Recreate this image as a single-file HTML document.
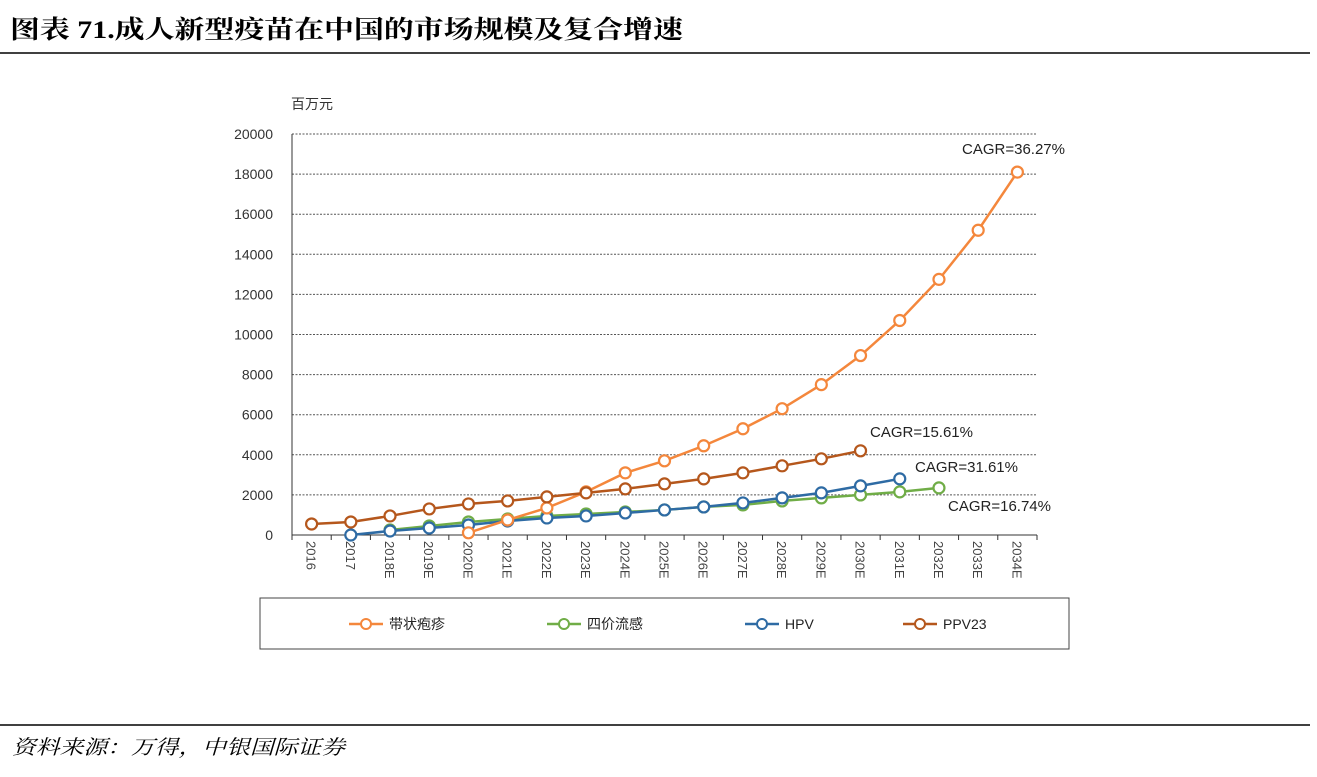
<!DOCTYPE html>
<html><head><meta charset="utf-8"><style>
body{margin:0;background:#fff;width:1317px;height:772px;overflow:hidden;font-family:"Liberation Sans","Noto Sans CJK SC",sans-serif}
</style></head><body>
<svg width="1317" height="772" xmlns="http://www.w3.org/2000/svg" font-family="Liberation Sans, Noto Sans CJK SC, sans-serif">
<text x="10" y="38" font-size="25" font-weight="bold" fill="#000" font-family="Liberation Serif, Noto Serif CJK SC, serif" textLength="673" lengthAdjust="spacingAndGlyphs">图表 71.成人新型疫苗在中国的市场规模及复合增速</text>
<line x1="0" y1="53" x2="1310" y2="53" stroke="#000" stroke-width="1.5"/>
<line x1="0" y1="725" x2="1310" y2="725" stroke="#000" stroke-width="1.5"/>
<text x="12" y="754" font-size="20" font-style="italic" fill="#000" font-family="Liberation Serif, Noto Serif CJK SC, serif" textLength="333" lengthAdjust="spacingAndGlyphs">资料来源：万得，中银国际证券</text>
<text x="291" y="109" font-size="14" fill="#333">百万元</text>
<g id="grid" stroke="#555" stroke-dasharray="2,1.5" stroke-width="1"></g>
<g id="ylab" font-size="14" fill="#333" text-anchor="end"></g>
<line x1="292" y1="134" x2="292" y2="535" stroke="#333"/>
<line x1="292" y1="535" x2="1037" y2="535" stroke="#333"/>
<g id="xt" stroke="#333"></g>
<g id="xlab" font-size="13" fill="#444"></g>
<g id="series"></g>
<g font-size="15" fill="#222">
<text x="962" y="154">CAGR=36.27%</text>
<text x="870" y="437">CAGR=15.61%</text>
<text x="915" y="472">CAGR=31.61%</text>
<text x="948" y="511">CAGR=16.74%</text>
</g>
<rect x="260" y="598" width="809" height="51" fill="none" stroke="#444"/>
<g font-size="14" fill="#222">
<line x1="349" y1="624" x2="383" y2="624" stroke="#F4873C" stroke-width="2.5"/><circle cx="366" cy="624" r="5" fill="#fff" stroke="#F4873C" stroke-width="2"/><text x="389" y="629">带状疱疹</text>
<line x1="547" y1="624" x2="581" y2="624" stroke="#70AD47" stroke-width="2.5"/><circle cx="564" cy="624" r="5" fill="#fff" stroke="#70AD47" stroke-width="2"/><text x="587" y="629">四价流感</text>
<line x1="745" y1="624" x2="779" y2="624" stroke="#2E6BA4" stroke-width="2.5"/><circle cx="762" cy="624" r="5" fill="#fff" stroke="#2E6BA4" stroke-width="2"/><text x="785" y="629">HPV</text>
<line x1="903" y1="624" x2="937" y2="624" stroke="#B5571C" stroke-width="2.5"/><circle cx="920" cy="624" r="5" fill="#fff" stroke="#B5571C" stroke-width="2"/><text x="943" y="629">PPV23</text>
</g>
</svg>
<script>
const NS="http://www.w3.org/2000/svg";
function el(p,t,a,txt){const e=document.createElementNS(NS,t);for(const k in a)e.setAttribute(k,a[k]);if(txt!==undefined)e.textContent=txt;document.getElementById(p).appendChild(e);return e;}
const Y=v=>535-v*0.02005, X=i=>292+39.21*(i+0.5);
for(let v=2000;v<=20000;v+=2000)el("grid","line",{x1:292,x2:1037,y1:Y(v),y2:Y(v)});
for(let v=0;v<=20000;v+=2000)el("ylab","text",{x:273,y:Y(v)+5},v);
const cats=["2016","2017","2018E","2019E","2020E","2021E","2022E","2023E","2024E","2025E","2026E","2027E","2028E","2029E","2030E","2031E","2032E","2033E","2034E"];
for(let i=0;i<=19;i++)el("xt","line",{x1:292+39.21*i,x2:292+39.21*i,y1:535,y2:540});
cats.forEach((c,i)=>el("xlab","text",{transform:`translate(${X(i)-5},541) rotate(90)`},c));
const S=[
["#70AD47",2,[250,450,650,800,950,1050,1150,1250,1400,1500,1700,1850,2000,2150,2350]],
["#2E6BA4",1,[0,200,350,500,700,850,950,1100,1250,1400,1600,1850,2100,2450,2800]],
["#F4873C",4,[110,750,1350,2150,3100,3700,4450,5300,6300,7500,8950,10700,12750,15200,18100]],
["#B5571C",0,[550,650,950,1300,1550,1700,1900,2100,2300,2550,2800,3100,3450,3800,4200]]];
S.forEach(([c,s,d])=>{const pts=d.map((v,j)=>X(s+j)+","+Y(v)).join(" ");
el("series","polyline",{points:pts,fill:"none",stroke:c,"stroke-width":2.5});
d.forEach((v,j)=>el("series","circle",{cx:X(s+j),cy:Y(v),r:5.5,fill:"#fff",stroke:c,"stroke-width":2.2}));});
</script>
</body></html>
